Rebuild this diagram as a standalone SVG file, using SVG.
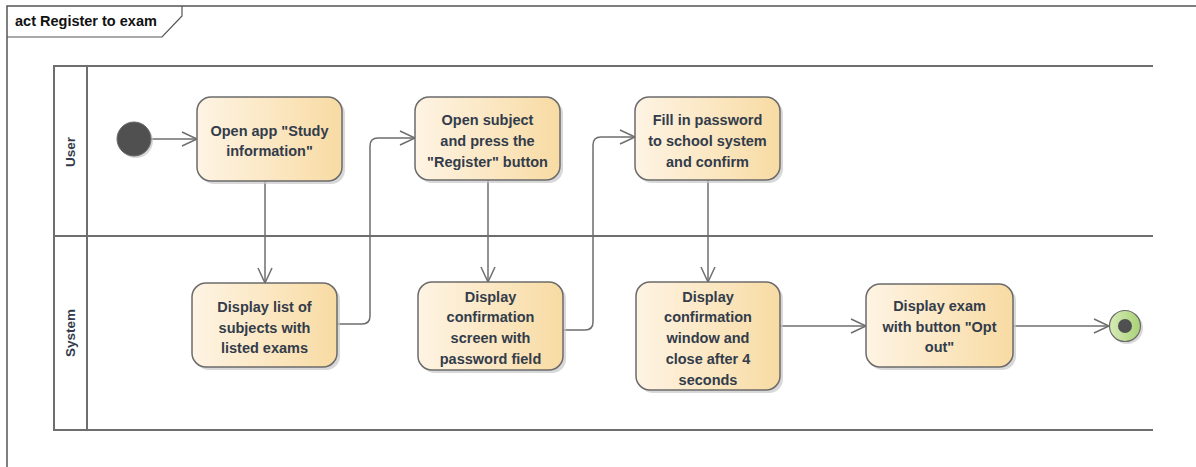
<svg xmlns="http://www.w3.org/2000/svg" width="1196" height="467" viewBox="0 0 1196 467">
<style>
.lane{fill:none;stroke:#6e6e6e;stroke-width:2}
.act{stroke:#6b6b6b;stroke-width:1.5;fill:url(#g)}
.sh{fill:#c8c8c8;opacity:0.7}
.t{font-family:"Liberation Sans",Arial,sans-serif;font-weight:bold;font-size:14.5px;fill:#333c4a;text-anchor:middle}
.c{fill:none;stroke:#6e6e6e;stroke-width:1.5}
</style>
<defs>
<linearGradient id="g" x1="0" y1="0" x2="1" y2="0">
<stop offset="0" stop-color="#fef4e4"/>
<stop offset="1" stop-color="#f8dba3"/>
</linearGradient>
<linearGradient id="gg" x1="0" y1="0" x2="1" y2="0">
<stop offset="0" stop-color="#d6ebb6"/>
<stop offset="1" stop-color="#a9d277"/>
</linearGradient>
<marker id="a" markerWidth="18" markerHeight="18" refX="16" refY="8" orient="auto" markerUnits="userSpaceOnUse">
<path d="M1,1 L16,8 L1,15" fill="none" stroke="#6e6e6e" stroke-width="1.5"/>
</marker>
</defs>
<rect width="1196" height="467" fill="#ffffff"/>
<g id="frame">
<path d="M7,467 L7,6 L1196,6" fill="none" stroke="#555" stroke-width="1.5"/>
<path d="M7,37 L162,37 L182,16 L182,6" fill="none" stroke="#555" stroke-width="1.2"/>
<text x="15" y="26" style="font-family:'Liberation Sans',Arial,sans-serif;font-weight:bold;font-size:14.5px;fill:#111">act Register to exam</text>
</g>
<g id="lanes">
<path class="lane" d="M1153,66 L54,66 L54,430 L1153,430 M87,66 L87,430 M54,236 L1153,236"/>
<text class="t" transform="translate(75,152) rotate(-90)" style="font-size:13.5px">User</text>
<text class="t" transform="translate(75,333) rotate(-90)" style="font-size:13.5px">System</text>
</g>
<g id="connectors">
<path class="c" marker-end="url(#a)" d="M151,139 L197,139"/>
<path class="c" marker-end="url(#a)" d="M265,181 L265,283"/>
<path class="c" marker-end="url(#a)" d="M337,324 L362,324 Q370,324 370,316 L370,146 Q370,138 378,138 L415,138"/>
<path class="c" marker-end="url(#a)" d="M488,180 L488,282"/>
<path class="c" marker-end="url(#a)" d="M563,330 L585,330 Q593,330 593,322 L593,145 Q593,137 601,137 L635,137"/>
<path class="c" marker-end="url(#a)" d="M708,180 L708,282"/>
<path class="c" marker-end="url(#a)" d="M780,326 L866,326"/>
<path class="c" marker-end="url(#a)" d="M1013,326 L1109,326"/>
</g>
<g id="start">
<circle cx="136" cy="141" r="17" fill="#c8c8c8" opacity="0.7"/>
<circle cx="134" cy="139" r="17" fill="#505050" stroke="#6b6b6b" stroke-width="1"/>
</g>
<g id="n1">
<rect class="sh" x="200" y="100" width="145" height="84" rx="14"/>
<rect class="act" x="197" y="97" width="145" height="84" rx="14"/>
<text class="t" x="269.5" y="136">Open app "Study</text>
<text class="t" x="269.5" y="156">information"</text>
</g>
<g id="n2">
<rect class="sh" x="418" y="100" width="145" height="83" rx="14"/>
<rect class="act" x="415" y="97" width="145" height="83" rx="14"/>
<text class="t" x="487.5" y="125">Open subject</text>
<text class="t" x="487.5" y="146">and press the</text>
<text class="t" x="487.5" y="167">"Register" button</text>
</g>
<g id="n3">
<rect class="sh" x="638" y="100" width="145" height="83" rx="14"/>
<rect class="act" x="635" y="97" width="145" height="83" rx="14"/>
<text class="t" x="707.5" y="125">Fill in password</text>
<text class="t" x="707.5" y="146">to school system</text>
<text class="t" x="707.5" y="167">and confirm</text>
</g>
<g id="n4">
<rect class="sh" x="195" y="286" width="145" height="84" rx="14"/>
<rect class="act" x="192" y="283" width="145" height="84" rx="14"/>
<text class="t" x="264.5" y="312">Display list of</text>
<text class="t" x="264.5" y="333">subjects with</text>
<text class="t" x="264.5" y="353">listed exams</text>
</g>
<g id="n5">
<rect class="sh" x="421" y="285" width="145" height="88" rx="14"/>
<rect class="act" x="418" y="282" width="145" height="88" rx="14"/>
<text class="t" x="490.5" y="302">Display</text>
<text class="t" x="490.5" y="322">confirmation</text>
<text class="t" x="490.5" y="343">screen with</text>
<text class="t" x="490.5" y="364">password field</text>
</g>
<g id="n6">
<rect class="sh" x="639" y="285" width="144" height="108" rx="14"/>
<rect class="act" x="636" y="282" width="144" height="108" rx="14"/>
<text class="t" x="708" y="302">Display</text>
<text class="t" x="708" y="322">confirmation</text>
<text class="t" x="708" y="343">window and</text>
<text class="t" x="708" y="364">close after 4</text>
<text class="t" x="708" y="385">seconds</text>
</g>
<g id="n7">
<rect class="sh" x="869" y="287" width="147" height="83" rx="14"/>
<rect class="act" x="866" y="284" width="147" height="83" rx="14"/>
<text class="t" x="939.5" y="311">Display exam</text>
<text class="t" x="939.5" y="332">with button "Opt</text>
<text class="t" x="939.5" y="352">out"</text>
</g>
<g id="end">
<circle cx="1127" cy="328" r="16" fill="#c8c8c8" opacity="0.7"/>
<circle cx="1125" cy="326" r="15.5" fill="url(#gg)" stroke="#6b6b6b" stroke-width="1.2"/>
<circle cx="1125" cy="326" r="7" fill="#505050"/>
</g>
</svg>
